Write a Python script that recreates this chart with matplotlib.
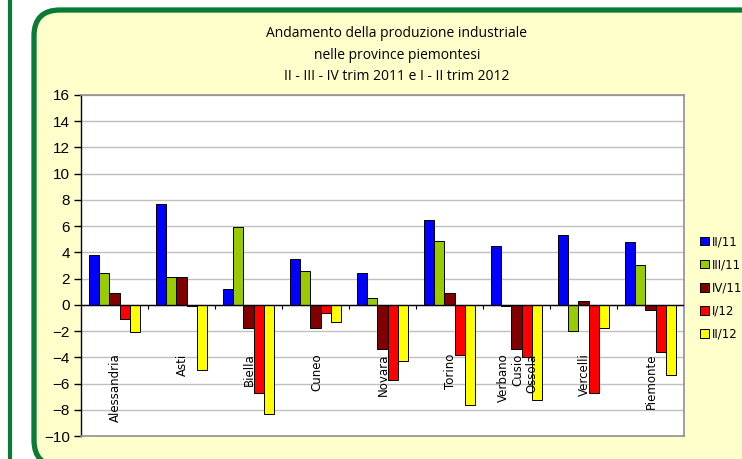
import matplotlib.pyplot as plt
import numpy as np
from matplotlib.lines import Line2D
from matplotlib.patches import FancyBboxPatch, Patch

provinces = ["Alessandria", "Asti", "Biella", "Cuneo", "Novara", "Torino",
             "Verbano\nCusio\nOssola", "Vercelli", "Piemonte"]
series_names = ["II/11", "III/11", "IV/11", "I/12", "II/12"]
colors = ["#0000FF", "#99CC00", "#800000", "#FF0000", "#FFFF00"]

q2_11 = [3.8, 7.7, 1.2, 3.5, 2.4, 6.5, 4.5, 5.3, 4.8]
q3_11 = [2.4, 2.1, 5.9, 2.6, 0.5, 4.9, -0.1, -2.0, 3.0]
q4_11 = [0.9, 2.1, -1.8, -1.8, -3.4, 0.9, -3.4, 0.3, -0.4]
q1_12 = [-1.1, -0.05, -6.7, -0.65, -5.7, -3.8, -3.95, -6.7, -3.6]
q2_12 = [-2.1, -5.0, -8.3, -1.3, -4.25, -7.6, -7.25, -1.8, -5.35]
series = [q2_11, q3_11, q4_11, q1_12, q2_12]

title = ("Andamento della produzione industriale\n"
         "nelle province piemontesi\n"
         "II - III - IV trim 2011 e I - II trim 2012")

green = "#0A7A36"

fig = plt.figure(figsize=(7.42, 4.59), dpi=100)
fig.patch.set_facecolor("white")

# left green bar and rounded yellow panel (pixel coordinates), behind the axes
fig.add_artist(Line2D([10, 10], [0, 459], transform=None, color=green, lw=3,
                      zorder=-2))
box = FancyBboxPatch((34, -7), 780, 449 + 7, transform=None,
                     boxstyle="round,pad=0,rounding_size=26",
                     facecolor="#FFFFCC", edgecolor=green, lw=3.8, zorder=-2)
fig.add_artist(box)

ax = fig.add_axes([81 / 742, 23 / 459, 603 / 742, 341 / 459])
ax.set_zorder(1)
ax.set_facecolor("white")

x = np.arange(len(provinces))
w = 0.154
for i, (vals, col, name) in enumerate(zip(series, colors, series_names)):
    ax.bar(x + (i - 2) * w, vals, width=w, color=col, edgecolor="black",
           linewidth=0.7, label=name, zorder=3)

ax.set_xlim(-0.5, len(provinces) - 0.5)
ax.set_ylim(-10, 16)
ax.set_yticks(np.arange(-10, 17, 2))
ax.set_xticks([])
ax.grid(axis="y", color="#C0C0C0", lw=1, zorder=0)
ax.tick_params(axis="y", direction="out", length=5, width=1, labelsize=11,
               pad=3)
for lab in ax.get_yticklabels():
    lab.set_family("Liberation Sans")

ax.spines["left"].set_color("black")
ax.spines["left"].set_linewidth(1)
for s in ["top", "right", "bottom"]:
    ax.spines[s].set_color("#909090")
    ax.spines[s].set_linewidth(1.2)

# category axis at zero with tick marks between groups
ax.axhline(0, color="black", lw=1, zorder=4)
ax.vlines(np.arange(0.5, len(provinces) - 0.5, 1), -0.3, 0, color="black",
          lw=0.8, zorder=4)

for xi, name in zip(x, provinces):
    ax.text(xi + 0.02, -3.7, name, rotation=90, ha="center", va="top",
            multialignment="right", fontsize=8.5, family="DejaVu Sans",
            zorder=5, linespacing=1.1)

fig.text(397 / 742, 1 - 26 / 459, title, ha="center", va="top",
         fontsize=10, family="Open Sans", linespacing=1.6)

handles = [Patch(facecolor=c, edgecolor="black", lw=0.7) for c in colors]
fig.legend(handles, series_names, loc="center left",
           bbox_to_anchor=(692 / 742, 1 - 288 / 459), frameon=False,
           handlelength=0.7, handleheight=0.7, handletextpad=0.3,
           labelspacing=0.85, borderpad=0.2,
           prop={"family": "DejaVu Sans", "size": 8.5})

fig.savefig("out.png", dpi=100)
